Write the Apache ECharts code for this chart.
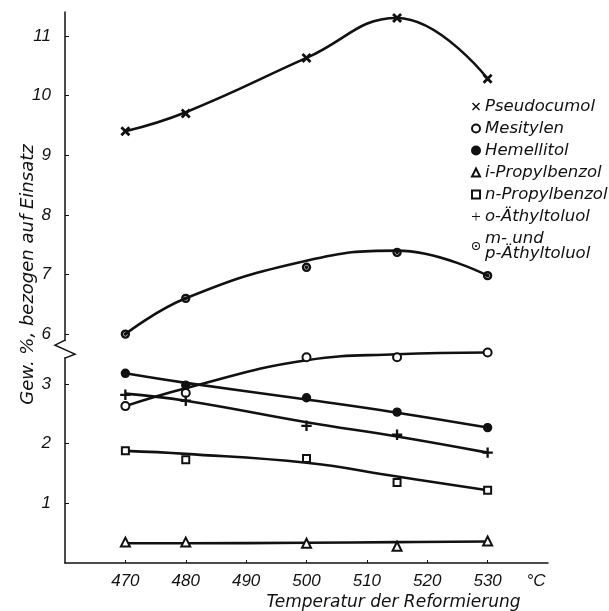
<!DOCTYPE html>
<html><head><meta charset="utf-8">
<script src="https://cdn.jsdelivr.net/npm/echarts@6/dist/echarts.min.js"></script>
<style>html,body{margin:0;padding:0;background:#fff}#c{width:609px;height:611px}</style>
</head><body><div id="c"></div>
<script>
// Temperatures (°C) of the measurements
const temps = [470, 480, 500, 515, 530];
const xTickLabels = [470, 480, 490, 500, 510, 520, 530];
const yTickLabels = [1, 2, 3, 6, 7, 8, 9, 10, 11];

// Measured points (Gew. %, bezogen auf Einsatz)
const pseudocumolPts = [9.4, 9.7, 10.63, 11.3, 10.28];
const mesitylenPts   = [2.63, 2.85, 3.45, 3.45, 3.53];
const hemellitolPts  = [3.18, 2.98, 2.77, 2.53, 2.27];
const iPropylPts     = [0.35, 0.35, 0.33, 0.28, 0.37];
const nPropylPts     = [1.88, 1.73, 1.75, 1.35, 1.22];
const oEthylPts      = [2.82, 2.72, 2.30, 2.15, 1.85];
const mpEthylPts     = [6.0, 6.6, 7.12, 7.37, 6.98];

// Drawn (fitted) curves, read at the same temperatures
const pseudocumolCurve = [9.4, 9.72, 10.63, 11.3, 10.28];
const mesitylenCurve   = [2.63, 2.93, 3.40, 3.50, 3.53];
const hemellitolCurve  = [3.18, 3.02, 2.74, 2.52, 2.27];
const iPropylCurve     = [0.33, 0.33, 0.34, 0.35, 0.36];
const nPropylCurve     = [1.88, 1.83, 1.68, 1.45, 1.22];
const oEthylCurve      = [2.84, 2.72, 2.36, 2.12, 1.85];
const mpEthylCurve     = [6.0, 6.6, 7.23, 7.40, 6.98];

const names = ['Pseudocumol', 'Mesitylen', 'Hemellitol', 'i-Propylbenzol', 'n-Propylbenzol', 'o-Äthyltoluol', 'm- und\np-Äthyltoluol'];

const CROSS = 'path://M2,4 L4,2 L10,8 L16,2 L18,4 L12,10 L18,16 L16,18 L10,12 L4,18 L2,16 L8,10 Z';
const PLUS = 'path://M9,0 H11 V9 H20 V11 H11 V20 H9 V11 H0 V9 H9 Z';
const RINGDOT = 'path://M10,0 A10,10 0 1,1 10,20 A10,10 0 1,1 10,0 Z M10,2.6 A7.4,7.4 0 1,0 10,17.4 A7.4,7.4 0 1,0 10,2.6 Z M10,7.2 A2.8,2.8 0 1,1 10,12.8 A2.8,2.8 0 1,1 10,7.2 Z';
const symbols = [CROSS, 'emptyCircle', 'circle', 'emptyTriangle', 'emptyRect', PLUS, RINGDOT];
const sizes = [8, 8, 8, 9, 7, 9, 8];

const pts = [pseudocumolPts, mesitylenPts, hemellitolPts, iPropylPts, nPropylPts, oEthylPts, mpEthylPts];
const curves = [pseudocumolCurve, mesitylenCurve, hemellitolCurve, iPropylCurve, nPropylCurve, oEthylCurve, mpEthylCurve];

const INK = '#111';
const FONT = 'Liberation Sans';
const FONT2 = 'DejaVu Sans';
const pair = arr => temps.map((t, i) => [t, arr[i]]);

const series = [];
curves.forEach((c, i) => {
  series.push({
    type: 'line', name: 'curve' + i, data: pair(c), smooth: 0.45,
    showSymbol: false, symbol: 'none', silent: true, z: 2,
    lineStyle: { color: INK, width: 2.6 }
  });
});
pts.forEach((p, i) => {
  series.push({
    type: 'scatter', name: names[i], data: pair(p), symbol: symbols[i], symbolSize: sizes[i], z: 3,
    itemStyle: { color: INK, borderColor: INK, borderWidth: 1.4, opacity: 1 }
  });
});

const chart = echarts.init(document.getElementById('c'), null, { renderer: 'canvas' });
chart.setOption({
  animation: false,
  backgroundColor: '#fff',
  grid: { left: 65, right: 61, top: 12, bottom: 48, containLabel: false, outerBoundsMode: 'none' },
  legend: {
    orient: 'vertical', left: 466, top: 93, itemWidth: 8, itemHeight: 8, itemGap: 5,
    selectedMode: false,
    textStyle: { fontFamily: FONT2, fontStyle: 'italic', fontSize: 16.5, lineHeight: 15, color: INK },
    data: names.map((n, i) => ({
      name: n, icon: symbols[i],
      itemStyle: symbols[i].indexOf('path://') === 0 ? { borderWidth: 0 } : undefined
    }))
  },
  xAxis: {
    type: 'value', min: 460, max: 540, interval: 10,
    axisLine: { lineStyle: { color: INK, width: 1.5 } },
    axisTick: { inside: true, length: 3, customValues: xTickLabels, lineStyle: { color: INK } },
    axisLabel: {
      customValues: xTickLabels.concat([538]),
      formatter: v => (v === 538 ? '°C' : String(v)),
      margin: 10, color: INK, fontFamily: FONT, fontStyle: 'italic', fontSize: 17
    },
    splitLine: { show: false },
    name: 'Temperatur der Reformierung', nameLocation: 'middle', nameGap: 31, nameMoveOverlap: false,
    nameTextStyle: { color: INK, fontFamily: FONT2, fontStyle: 'italic', fontSize: 17, padding: [0, 0, 0, 174] }
  },
  yAxis: {
    type: 'value', min: 0, max: 11.4,
    breaks: [{ start: 3.6, end: 5.8, gap: '0.4%' }],
    breakArea: { show: false },
    axisLine: { show: true, lineStyle: { color: INK, width: 1.5 } },
    axisTick: { show: true, inside: true, length: 4, customValues: yTickLabels, lineStyle: { color: INK } },
    axisLabel: {
      customValues: yTickLabels, margin: 14, color: INK,
      fontFamily: FONT, fontStyle: 'italic', fontSize: 17
    },
    splitLine: { show: false },
    name: 'Gew. %, bezogen auf Einsatz', nameLocation: 'middle', nameGap: 28, nameMoveOverlap: false,
    nameTextStyle: { color: INK, fontFamily: FONT2, fontStyle: 'italic', fontSize: 18, padding: [0, 0, 0, 26] }
  },
  series: series
});

// Break mark on the y axis, positioned through the axis scales
const ax = chart.convertToPixel({ xAxisIndex: 0 }, 460);
const yA = chart.convertToPixel({ yAxisIndex: 0 }, 3.6);
const yB = chart.convertToPixel({ yAxisIndex: 0 }, 5.8);
const yc = (yA + yB) / 2 + 2;
chart.setOption({
  graphic: [
    { type: 'rect', z: 100, shape: { x: ax - 3, y: yc - 8, width: 6, height: 16 }, style: { fill: '#fff' } },
    { type: 'polyline', z: 101, shape: { points: [[ax, yc - 9], [ax - 10, yc - 4], [ax + 10, yc + 5], [ax, yc + 9]] },
      style: { stroke: INK, lineWidth: 1.5, fill: null } }
  ]
});
</script>
</body></html>
